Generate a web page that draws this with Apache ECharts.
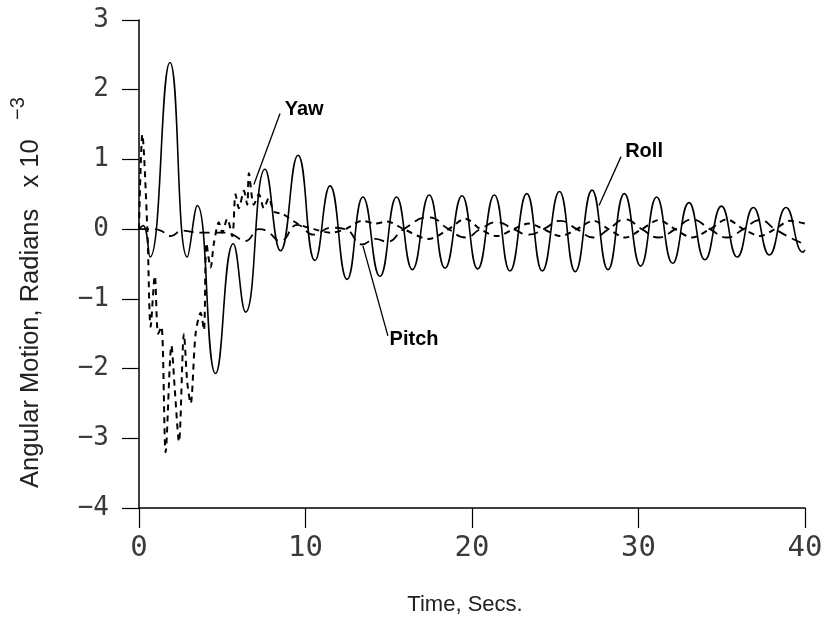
<!DOCTYPE html>
<html><head><meta charset="utf-8">
<script src="https://cdn.jsdelivr.net/npm/echarts@6/dist/echarts.min.js"></script>
<style>html,body{margin:0;padding:0;background:#fff}#c{width:826px;height:625px}</style>
</head><body><div id="c"></div>
<script>
// ---- data (time in seconds, angular motion in radians x 10^-3) ----
const rollTime = [0, 0.25, 0.66, 1.86, 2.9, 3.5, 4.6, 5.66, 6.4, 7.57, 8.5, 9.55, 10.57, 11.47, 12.5, 13.45, 14.47,
  15.47, 16.42, 17.43, 18.38, 19.4, 20.34, 21.34, 22.28, 23.29, 24.22, 25.25, 26.2, 27.21, 28.17, 29.15, 30.13,
  31.09, 32.05, 33.03, 33.99, 34.98, 35.93, 36.9, 37.86, 38.86, 39.88, 40];
const rollValues = [0, 0.05, -0.4, 2.39, -0.4, 0.34, -2.07, -0.21, -1.19, 0.86, -0.31, 1.06, -0.45, 0.62, -0.72, 0.46, -0.68,
  0.46, -0.58, 0.49, -0.56, 0.48, -0.57, 0.49, -0.6, 0.51, -0.6, 0.54, -0.61, 0.56, -0.58, 0.51, -0.53,
  0.46, -0.49, 0.38, -0.44, 0.33, -0.4, 0.31, -0.37, 0.31, -0.33, -0.3];

const pitchTime = [0, 0.8, 1.3, 1.9, 2.6, 3.2, 4.0, 5.0, 5.6, 6.4, 7.2, 7.7, 8.5, 9.5, 10.5, 11.5, 12.4, 13.4, 14.2, 14.9,
  15.9, 17.4, 18.6, 19.6, 20.5, 21.5, 22.5, 23.4, 24.3, 25.3, 26.3, 27.3, 28.2, 29.2, 30.2, 31.2, 32.2, 33.2,
  34.3, 35.3, 36.3, 37.3, 38.2, 39.1, 40];
const pitchValues = [0, 0, -0.02, -0.1, -0.02, -0.04, -0.05, -0.05, -0.08, -0.17, 0, -0.03, -0.17, 0.06, -0.08, 0.02, 0, -0.22, -0.14, -0.18,
  0, 0.17, 0, -0.12, 0, 0.1, 0, -0.08, 0, 0.12, 0, -0.12, 0, 0.14, 0, -0.12, 0, 0.14,
  0, -0.12, 0, 0.13, 0, -0.12, -0.22];

const yawTime = [0, 0.2, 0.5, 0.7, 0.95, 1.15, 1.35, 1.6, 1.95, 2.15, 2.4, 2.7, 2.9, 3.1, 3.4, 3.7, 3.9, 4.05, 4.3, 4.5,
  4.8, 5.0, 5.3, 5.6, 5.8, 6.0, 6.3, 6.5, 6.6, 6.9, 7.2, 7.5, 7.8, 8.1, 8.6, 9.6, 10.5, 11.5, 12.4, 13.4, 14.2, 14.9,
  15.9, 17.4, 18.6, 19.6, 20.5, 21.5, 22.5, 23.4, 24.3, 25.3, 26.3, 27.3, 28.2, 29.2, 30.2, 31.2, 32.2, 33.2,
  34.3, 35.3, 36.3, 37.3, 38.2, 39.1, 40];
const yawValues = [0, 1.36, 0, -1.4, -0.67, -1.5, -1.4, -3.2, -1.67, -2.3, -3.05, -1.5, -2.2, -2.5, -1.5, -1.2, -1.45, -0.2, -0.55, -0.2,
  0.1, -0.05, 0.15, -0.1, 0.5, 0.3, 0.55, 0.35, 0.8, 0.35, 0.5, 0.3, 0.45, 0.25, 0.22, 0.07, 0, -0.05, 0, 0.12, 0.08, 0.11,
  0, -0.14, 0, 0.15, 0, -0.1, 0, 0.08, 0, -0.1, 0, 0.12, 0, -0.12, 0, 0.13, 0, -0.12,
  0, 0.14, 0, -0.1, 0, 0.12, 0.08];

// annotation labels with leader lines (data coordinates)
const annotationNames = ['Yaw', 'Roll', 'Pitch'];
const leaderStart = [[6.9, 0.64], [27.63, 0.34], [13.45, -0.24]];
const leaderEnd = [[8.47, 1.66], [28.95, 1.04], [14.95, -1.53]];
const labelAnchor = [[8.75, 1.72], [29.2, 1.11], [15.05, -1.58]];

const xAxisTitle = 'Time, Secs.';
const yAxisTitle = 'Angular Motion, Radians   x 10';
const yAxisExponent = '\u22123';

function pairs(t, v) { return t.map((x, i) => [x, v[i]]); }

const chart = echarts.init(document.getElementById('c'), null, { renderer: 'canvas' });
const tickFont = { fontFamily: 'DejaVu Sans Mono', color: '#3a3a3a' };
chart.setOption({
  animation: false,
  backgroundColor: '#fff',
  grid: { left: 139, right: 21, top: 20, bottom: 117, containLabel: false },
  xAxis: {
    type: 'value', min: 0, max: 40, interval: 10,
    axisLine: { onZero: false, lineStyle: { color: '#000', width: 1.5 } },
    axisTick: { inside: false, length: 20, lineStyle: { color: '#000', width: 1.2 } },
    axisLabel: Object.assign({ fontSize: 29, margin: 26 }, tickFont),
    splitLine: { show: false }
  },
  yAxis: {
    type: 'value', min: -4, max: 3, interval: 1,
    axisLine: { onZero: false, lineStyle: { color: '#000', width: 1.5 } },
    axisTick: { inside: false, length: 17, lineStyle: { color: '#000', width: 1.2 } },
    axisLabel: Object.assign({ fontSize: 26, margin: 30, formatter: v => String(v).replace('-', '\u2212') }, tickFont),
    splitLine: { show: false }
  },
  series: [
    { name: 'Roll', type: 'line', data: pairs(rollTime, rollValues), smooth: 0.5, showSymbol: false,
      lineStyle: { color: '#000', width: 1.6 } },
    { name: 'Pitch', type: 'line', data: pairs(pitchTime, pitchValues), smooth: 0.5, showSymbol: false,
      lineStyle: { color: '#000', width: 1.8, type: [10, 6] } },
    { name: 'Yaw', type: 'line', data: pairs(yawTime, yawValues), smooth: 0.3, showSymbol: false,
      lineStyle: { color: '#000', width: 2, type: [6, 5] } }
  ]
});

const gfx = [];
annotationNames.forEach((name, i) => {
  const a = chart.convertToPixel({ gridIndex: 0 }, leaderStart[i]);
  const b = chart.convertToPixel({ gridIndex: 0 }, leaderEnd[i]);
  const l = chart.convertToPixel({ gridIndex: 0 }, labelAnchor[i]);
  gfx.push({ type: 'line', shape: { x1: a[0], y1: a[1], x2: b[0], y2: b[1] }, style: { stroke: '#000', lineWidth: 1.3 } });
  gfx.push({ type: 'text', x: l[0], y: l[1], style: { text: name, fill: '#000', font: 'bold 20px "Liberation Sans"', textAlign: 'left', textVerticalAlign: 'middle' } });
});
gfx.push({ type: 'text', x: 465, y: 605, style: { text: xAxisTitle, fill: '#222', font: '22px "Liberation Sans"', textAlign: 'center', textVerticalAlign: 'middle' } });
gfx.push({ type: 'text', x: 31, y: 488, rotation: Math.PI / 2, style: { text: yAxisTitle, fill: '#222', font: '25.5px "Liberation Sans"', textAlign: 'left', textVerticalAlign: 'middle' } });
gfx.push({ type: 'text', x: 18, y: 120, rotation: Math.PI / 2, style: { text: yAxisExponent, fill: '#222', font: '20px "Liberation Sans"', textAlign: 'left', textVerticalAlign: 'middle' } });
chart.setOption({ graphic: gfx });
</script>
</body></html>
